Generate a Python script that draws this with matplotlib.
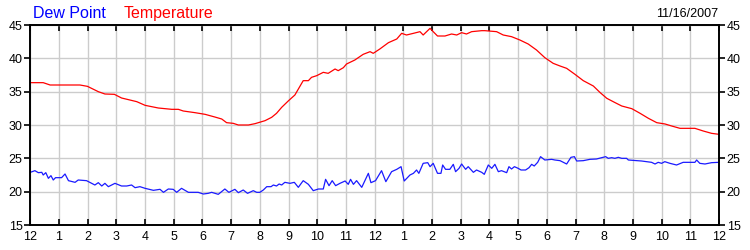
import matplotlib
matplotlib.use("Agg")
import matplotlib.pyplot as plt

plt.rcParams['font.family'] = ['Liberation Sans', 'DejaVu Sans']

# Hours since midnight (0..24) and values
temp_hours = [0.0, 0.45, 0.69, 1.73, 1.99, 2.37, 2.60, 2.93, 3.18, 3.47, 3.71, 4.00,
              4.46, 4.93, 5.16, 5.33, 5.74, 6.09, 6.43, 6.67, 6.84, 7.07, 7.25, 7.60,
              7.83, 8.18, 8.41, 8.58, 8.76, 9.00, 9.22, 9.51, 9.69, 9.80, 9.98, 10.21,
              10.38, 10.62, 10.73, 10.91, 11.02, 11.31, 11.60, 11.84, 11.95, 12.18, 12.48,
              12.77, 12.94, 13.11, 13.35, 13.58, 13.69, 13.81, 13.93, 14.04, 14.19, 14.45,
              14.68, 14.86, 15.03, 15.20, 15.38, 15.73, 15.84, 16.25, 16.48, 16.77, 17.06,
              17.35, 17.64, 17.93, 18.22, 18.46, 18.69, 18.98, 19.27, 19.62, 19.86, 20.09,
              20.38, 20.61, 20.96, 21.25, 21.54, 21.83, 22.12, 22.35, 22.64, 23.16, 23.45,
              23.74, 24.0]
temperature = [36.35, 36.35, 36.0, 36.0, 35.8, 35.0, 34.65, 34.6, 34.05, 33.75, 33.5, 32.95,
               32.55, 32.35, 32.35, 32.1, 31.85, 31.6, 31.2, 30.9, 30.35, 30.25, 30.0, 30.0,
               30.2, 30.65, 31.15, 31.75, 32.65, 33.65, 34.5, 36.65, 36.65, 37.15, 37.4, 37.9,
               37.75, 38.4, 38.15, 38.6, 39.15, 39.75, 40.6, 41.0, 40.75, 41.4, 42.35,
               42.9, 43.75, 43.5, 43.75, 44.0, 43.5, 44.0, 44.5, 44.0, 43.35, 43.35,
               43.65, 43.5, 43.85, 43.65, 44.0, 44.15, 44.15, 44.0, 43.5, 43.25, 42.75,
               42.15, 41.25, 40.1, 39.25, 38.85, 38.5, 37.6, 36.65, 35.85, 34.85, 34.0,
               33.35, 32.85, 32.45, 31.75, 31.0, 30.35, 30.15, 29.85, 29.5, 29.5, 29.1,
               28.75, 28.6]

dew_hours = [0.0, 0.16, 0.28, 0.40, 0.45, 0.54, 0.63, 0.72, 0.80, 0.88, 1.09, 1.21, 1.33,
             1.56, 1.67, 1.96, 2.14, 2.25, 2.37, 2.49, 2.60, 2.72, 2.95, 3.18, 3.36, 3.53,
             3.65, 3.82, 4.00, 4.29, 4.52, 4.64, 4.81, 4.98, 5.10, 5.27, 5.51, 5.85, 6.03,
             6.20, 6.32, 6.55, 6.78, 6.92, 7.13, 7.25, 7.42, 7.57, 7.77, 7.89, 8.00,
             8.12, 8.24, 8.39, 8.47, 8.58, 8.67, 8.76, 8.87, 9.05, 9.20, 9.34, 9.51, 9.69,
             9.86, 10.04, 10.21, 10.29, 10.41, 10.52, 10.64, 10.79, 10.97, 11.08, 11.16,
             11.26, 11.37, 11.55, 11.78, 11.87, 12.03, 12.24, 12.39, 12.59, 12.77, 12.92,
             13.03, 13.23, 13.35, 13.46, 13.54, 13.69, 13.85, 13.93, 14.04, 14.19, 14.31,
             14.37, 14.47, 14.62, 14.74, 14.82, 14.94, 15.03, 15.17, 15.26, 15.44, 15.55,
             15.73, 15.82, 15.96, 16.08, 16.19, 16.31, 16.42, 16.60, 16.68, 16.77, 16.87,
             17.00, 17.10, 17.26, 17.38, 17.47, 17.56, 17.68, 17.78, 17.93, 18.17, 18.28,
             18.46, 18.69, 18.84, 18.96, 19.04, 19.27, 19.50, 19.73, 20.05, 20.14, 20.26,
             20.37, 20.49, 20.61, 20.78, 20.84, 21.30, 21.48, 21.65, 21.77, 21.88, 22.00,
             22.11, 22.29, 22.52, 22.75, 23.16, 23.22, 23.33, 23.51, 23.74, 23.97, 24.0]
dew_point = [22.9, 23.15, 22.85, 22.9, 22.5, 22.85, 22.0, 22.4, 21.75, 22.1, 22.1, 22.65, 21.65,
             21.4, 21.75, 21.65, 21.25, 21.0, 21.35, 20.85, 21.25, 20.75, 21.25, 20.85, 20.85, 21.0,
             20.6, 20.75, 20.5, 20.2, 20.35, 19.9, 20.4, 20.35, 19.9, 20.5, 19.9, 19.9, 19.65,
             19.75, 19.9, 19.6, 20.4, 19.9, 20.35, 19.85, 20.25, 19.75, 20.15, 19.9, 19.9,
             20.25, 20.75, 20.75, 21.0, 20.85, 21.15, 21.0, 21.4, 21.25, 21.4, 20.65, 21.65, 21.1,
             20.15, 20.4, 20.4, 21.85, 20.9, 21.65, 20.9, 21.25, 21.6, 21.1, 21.85,
             21.1, 21.65, 20.65, 22.75, 21.35, 21.65, 23.15, 21.5, 23.0, 23.35, 23.75,
             21.6, 22.5, 22.75, 23.25, 22.75, 24.25, 24.35, 23.75, 24.25, 22.75, 22.75,
             24.0, 23.35, 23.35, 24.1, 23.0, 23.5, 24.15, 23.35, 23.75, 22.9, 23.25,
             22.9, 22.6, 24.0, 23.5, 24.1, 23.0, 23.15, 22.85, 23.75, 23.4, 23.75,
             23.5, 23.25, 23.25, 23.6, 24.1, 23.85, 24.4, 25.25, 24.75, 24.85, 24.75,
             24.65, 24.15, 25.15, 25.25, 24.6, 24.65, 24.85, 24.9, 25.25, 25.0, 25.1,
             25.0, 25.15, 25.0, 25.0, 24.75, 24.6, 24.5, 24.4, 24.15, 24.4, 24.25,
             24.5, 24.25, 24.0, 24.4, 24.4, 24.75, 24.25, 24.15, 24.35, 24.4, 24.4]

x_ticks = list(range(25))
x_labels = ['12'] + [str(i) for i in range(1, 12)] + ['12'] + [str(i) for i in range(1, 12)] + ['12']
y_ticks = [15, 20, 25, 30, 35, 40, 45]
date_label = '11/16/2007'

fig = plt.figure(figsize=(7.5, 2.5), dpi=100)
ax = fig.add_axes([0.0404, 0.1, 0.9183, 0.8])

ax.plot(dew_hours, dew_point, color='#1a1aff', lw=0.9)
ax.plot(temp_hours, temperature, color='#ff0000', lw=0.9)

ax.set_xlim(0, 24)
ax.set_ylim(15, 45)
ax.set_xticks(x_ticks)
ax.set_xticklabels(x_labels)
ax.set_yticks(y_ticks)
ax.grid(True, color='#cccccc', lw=1.0)
ax.set_axisbelow(True)

for s in ax.spines.values():
    s.set_linewidth(1.4)
    s.set_color('black')

ax.tick_params(axis='x', direction='in', top=True, bottom=True, length=4, width=1.2,
               labelsize=9, pad=4, colors='black')
ax.tick_params(axis='y', direction='out', left=True, right=True, labelleft=True,
               labelright=True, length=4, width=1.2, labelsize=9, pad=1.5)

fig.text(33 / 750, 1 - 17.5 / 250, 'Dew Point', color='#0000ff', fontsize=11.5, ha='left', va='baseline')
fig.text(124 / 750, 1 - 17.5 / 250, 'Temperature', color='#ff0000', fontsize=11.5, ha='left', va='baseline')
fig.text(718 / 750, 1 - 16.5 / 250, date_label, color='black', fontsize=9, ha='right', va='baseline')

fig.savefig('out.png', dpi=100)
